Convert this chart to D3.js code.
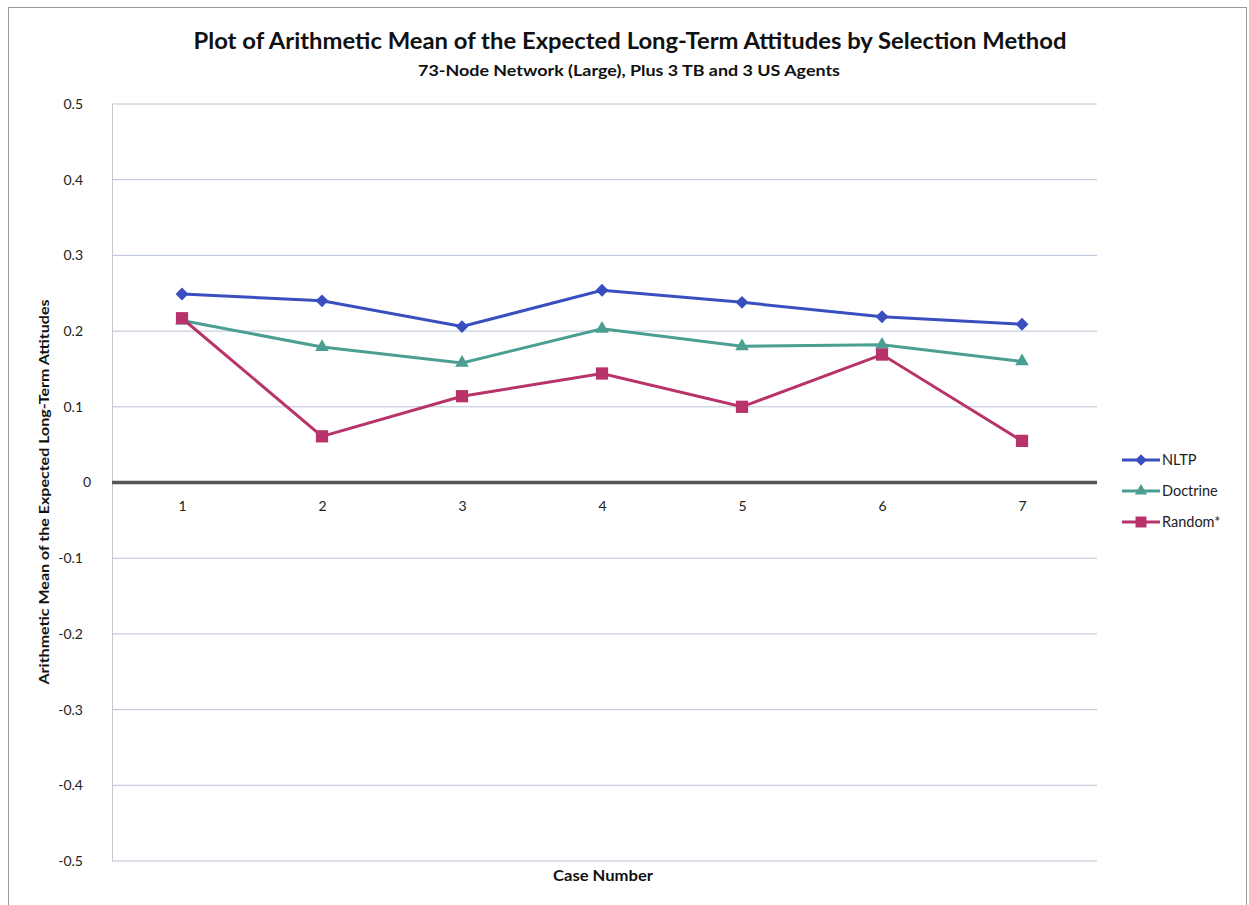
<!DOCTYPE html>
<html><head><meta charset="utf-8">
<script src="https://cdn.jsdelivr.net/npm/d3@7"></script>
<style>body{margin:0;background:#fff;} svg{display:block;font-family:Lato, "Open Sans", sans-serif;}</style>
</head><body><svg id="c" width="1249" height="905"></svg>
<script>
const categories = ["1","2","3","4","5","6","7"];
const nltp = [0.249, 0.240, 0.206, 0.254, 0.238, 0.219, 0.209];
const doctrine = [0.214, 0.179, 0.158, 0.203, 0.180, 0.182, 0.160];
const random = [0.217, 0.061, 0.114, 0.144, 0.100, 0.169, 0.055];
const yTicks = [0.5,0.4,0.3,0.2,0.1,0,-0.1,-0.2,-0.3,-0.4,-0.5];
const seriesNames = ["NLTP","Doctrine","Random*"];
const colors = ["#3a4fbf","#4a9e92","#b8336a"];

const svg = d3.select("#c");
const L=112,R=1092,T=104,B=861;
svg.append("rect").attr("x",8.5).attr("y",7.5).attr("width",1238).attr("height",910).attr("fill","#fff").attr("stroke","#999");
const x = d3.scalePoint().domain(categories).range([L,R]).padding(0.5);
const y = d3.scaleLinear().domain([-0.5,0.5]).range([B,T]);

const g = svg.append("g");
g.selectAll("line.grid").data(yTicks.filter(d=>d!==0)).join("line")
 .attr("x1",L).attr("x2",1097).attr("y1",d=>y(d)).attr("y2",d=>y(d)).attr("stroke","#b8c2d6").attr("stroke-width",1);
g.append("line").attr("x1",L+0.5).attr("x2",L+0.5).attr("y1",T).attr("y2",B).attr("stroke","#c8c8c8");
g.append("line").attr("x1",L).attr("x2",1097).attr("y1",y(0)).attr("y2",y(0)).attr("stroke","#555").attr("stroke-width",3.5);

const yAxis = d3.axisLeft(y).tickValues(yTicks).tickSize(0).tickPadding(29).tickFormat(d=>d===0?"0":String(d));
svg.append("g").attr("transform",`translate(${L},0)`).call(yAxis)
 .call(s=>s.select(".domain").remove())
 .selectAll("text").attr("font-size",14).attr("fill","#222").attr("font-family","Lato, sans-serif")
 .attr("dx",d=>d===0?8:0);
const xAxis = d3.axisBottom(x).tickSize(0).tickPadding(19);
svg.append("g").attr("transform",`translate(0,${y(0)})`).call(xAxis)
 .call(s=>s.select(".domain").remove())
 .selectAll("text").attr("font-size",14).attr("fill","#222").attr("font-family","Lato, sans-serif");

const data = [nltp, doctrine, random];
const line = d3.line().x((d,i)=>x(categories[i])).y(d=>y(d));
const symbols = [d3.symbolDiamond2, d3.symbolTriangle, d3.symbolSquare];
const sizes = [105, 80, 150];
data.forEach((vals,k)=>{
  g.append("path").datum(vals).attr("d",line).attr("fill","none").attr("stroke",colors[k]).attr("stroke-width",3);
  g.selectAll(".m"+k).data(vals).join("path")
   .attr("transform",(d,i)=>`translate(${x(categories[i])},${y(d)})`)
   .attr("d",d3.symbol().type(symbols[k]).size(sizes[k])).attr("fill",colors[k]);
});

// legend
const lg = svg.append("g");
seriesNames.forEach((n,k)=>{
  const yy = 460 + k*31;
  lg.append("line").attr("x1",1122).attr("x2",1160).attr("y1",yy).attr("y2",yy).attr("stroke",colors[k]).attr("stroke-width",3);
  lg.append("path").attr("transform",`translate(1141,${yy})`)
    .attr("d",d3.symbol().type(symbols[k]).size(sizes[k]*0.8)).attr("fill",colors[k]);
  lg.append("text").attr("x",1162).attr("y",yy+5).attr("font-size",14.5).attr("fill","#222").text(n);
});

svg.append("text").attr("x",630).attr("y",49).attr("text-anchor","middle").attr("font-size",22).attr("font-weight","bold").attr("fill","#111")
 .attr("textLength",873).attr("lengthAdjust","spacingAndGlyphs")
 .text("Plot of Arithmetic Mean of the Expected Long-Term Attitudes by Selection Method");
svg.append("text").attr("x",629).attr("y",76).attr("text-anchor","middle").attr("font-size",16).attr("font-weight","bold").attr("fill","#111")
 .attr("textLength",422).attr("lengthAdjust","spacingAndGlyphs")
 .text("73-Node Network (Large), Plus 3 TB and 3 US Agents");
svg.append("text").attr("x",603).attr("y",881).attr("text-anchor","middle").attr("font-size",15).attr("font-weight","bold").attr("fill","#111")
 .attr("textLength",100).attr("lengthAdjust","spacingAndGlyphs").text("Case Number");
svg.append("text").attr("transform","translate(49,492) rotate(-90)").attr("text-anchor","middle").attr("font-size",14).attr("font-weight","bold").attr("fill","#111")
 .attr("textLength",385).attr("lengthAdjust","spacingAndGlyphs")
 .text("Arithmetic Mean of the Expected Long-Term Attitudes");
</script></body></html>
